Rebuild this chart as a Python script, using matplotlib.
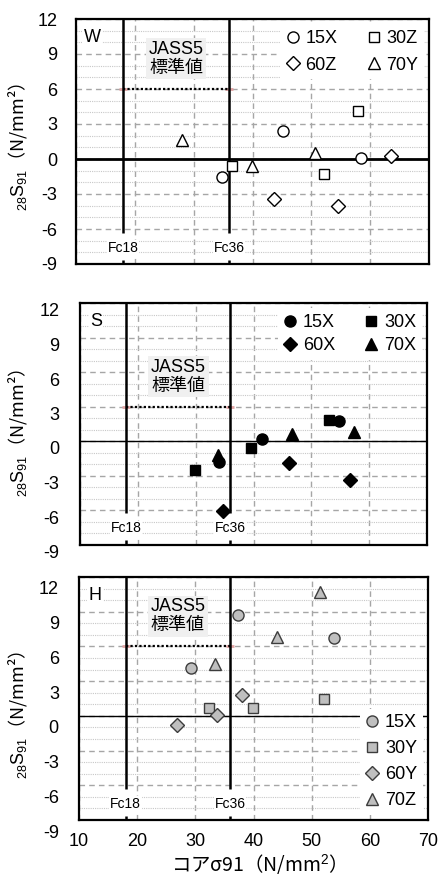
import matplotlib
matplotlib.use("Agg")
import matplotlib.pyplot as plt
from matplotlib.ticker import MultipleLocator
from matplotlib.transforms import ScaledTranslation


# ============================================================
# 1) DATA (read off the reference chart)
# ============================================================

X_TICKS = [10, 20, 30, 40, 50, 60, 70]
Y_TICKS = [-9, -6, -3, 0, 3, 6, 9, 12]

FC_VALUES = [18, 36]          # Fc18 / Fc36 reference lines
JASS_X = [18, 36]             # span of the JASS5 standard-value line

# --- W panel: open markers
W_LABELS = ["15X", "30Z", "60Z", "70Y"]
W_X = [[45.1, 34.9, 58.5],
       [36.6, 52.2, 57.9],
       [43.7, 54.6, 63.6],
       [28.1, 39.9, 50.6]]
W_Y = [[2.4, -1.5, 0.1],
       [-0.6, -1.3, 4.1],
       [-3.4, -4.0, 0.3],
       [1.6, -0.6, 0.5]]
W_JASS = 6

# --- S panel: filled black markers
S_LABELS = ["15X", "30X", "60X", "70X"]
S_X = [[34.1, 41.5, 54.8],
       [29.9, 39.6, 53.1],
       [34.7, 46.2, 56.6],
       [33.9, 46.6, 57.4]]
S_Y = [[-1.8, 0.2, 1.7],
       [-2.5, -0.6, 1.8],
       [-6.1, -1.9, -3.4],
       [-1.2, 0.6, 0.8]]
S_JASS = 3

# --- H panel: grey markers
H_LABELS = ["15X", "30Y", "60Y", "70Z"]
H_X = [[29.2, 37.3, 53.8],
       [32.4, 39.9, 52.1],
       [26.8, 33.8, 38.0],
       [33.3, 44.1, 51.4]]
H_Y = [[4.1, 8.7, 6.7],
       [0.7, 0.7, 1.5],
       [-0.8, 0.1, 1.8],
       [4.5, 6.8, 10.7]]
H_JASS = 6


# ============================================================
# 2) STYLING
# ============================================================

plt.rcParams["font.family"] = ["Liberation Sans", "DejaVu Sans", "Noto Sans CJK JP"]
plt.rcParams["axes.unicode_minus"] = False
plt.rcParams["mathtext.fontset"] = "custom"
plt.rcParams["mathtext.rm"] = "Liberation Sans"
plt.rcParams["mathtext.it"] = "Liberation Sans:italic"
plt.rcParams["mathtext.bf"] = "Liberation Sans:bold"

FIG_W, FIG_H, DPI = 438, 881, 100
FONT = 13
FC_FONT = 10
MARKERS = ["o", "s", "D", "^"]
MARKER_SIZES = [8, 7.5, 6.8, 8.5]

GRID_MAJOR = "#a6a6a6"
GRID_MINOR = "#c8c8c8"
JASS_BOX = "#f0f0f0"
JASS_END = "#e2a4a4"

FC_GAP = (-8.65, -6.3)        # gap in the Fc lines behind the labels
FC_LABEL_Y = -7.6
JASS_TEXT_X = 27
JASS_TEXT_DY = 2.6

YLABEL = r"${}_{28}\mathrm{S}_{91}$（N/mm²）"
YLABEL_FONT = ["Noto Sans CJK JP"]
XLABEL = r"コアσ91（N/mm$^{2}$）"
XLABEL_FONT = ["Noto Sans CJK JP"]

# pixel rects (left, top, right, bottom) of each plot box
PANELS = [
    dict(name="W", labels=W_LABELS, xs=W_X, ys=W_Y, jass=W_JASS,
         face="white", edge="black", zero_lw=2.0,
         box=(76, 19, 429, 264), yshift=0, ypad=13.5, ylab_y=0.476,
         legend=dict(ncol=2, loc="upper right", labelspacing=0.55)),
    dict(name="S", labels=S_LABELS, xs=S_X, ys=S_Y, jass=S_JASS,
         face="black", edge="black", zero_lw=1.0,
         box=(80, 303, 427, 544.5), yshift=7, ypad=15, ylab_y=0.463,
         legend=dict(ncol=2, loc="upper right", labelspacing=0.35)),
    dict(name="H", labels=H_LABELS, xs=H_X, ys=H_Y, jass=H_JASS,
         face="#bfbfbf", edge="#3c3c3c", zero_lw=1.0,
         box=(79, 577, 428, 820), yshift=11, ypad=14.5, ylab_y=0.432,
         legend=dict(ncol=1, loc="lower right", labelspacing=0.5)),
]


# ============================================================
# 3) FIGURE
# ============================================================

fig = plt.figure(figsize=(FIG_W / DPI, FIG_H / DPI), dpi=DPI)

for i, p in enumerate(PANELS):
    l, t, r, b = p["box"]
    ax = fig.add_axes([l / FIG_W, 1 - b / FIG_H, (r - l) / FIG_W, (b - t) / FIG_H])
    ax.set_xlim(X_TICKS[0], X_TICKS[-1])
    ax.set_ylim(Y_TICKS[0], Y_TICKS[-1])

    # grid: dashed majors, dotted 1-unit minors (horizontal only)
    ax.set_xticks(X_TICKS)
    ax.set_yticks(Y_TICKS)
    ax.yaxis.set_minor_locator(MultipleLocator(1))
    ax.grid(True, which="major", color=GRID_MAJOR, linestyle=(0, (4, 3)), linewidth=1.0)
    ax.grid(True, which="minor", axis="y", color=GRID_MINOR, linestyle=(0, (1, 1)), linewidth=0.8)
    ax.set_axisbelow(True)
    ax.tick_params(which="both", length=0, labelsize=FONT)
    ax.tick_params(axis="y", pad=p["ypad"])
    ax.tick_params(axis="x", pad=9)
    for sp in ax.spines.values():
        sp.set_linewidth(1.6)

    # tick labels in the original sit a few pixels below the grid
    if p["yshift"]:
        off = ScaledTranslation(0, -p["yshift"] / DPI, fig.dpi_scale_trans)
        for lbl in ax.get_yticklabels():
            lbl.set_transform(lbl.get_transform() + off)

    if i < len(PANELS) - 1:
        ax.set_xticklabels([])
    else:
        ax.set_xlabel(XLABEL, fontsize=FONT + 1, family=XLABEL_FONT, labelpad=2)

    ax.set_ylabel(YLABEL, fontsize=FONT, family=YLABEL_FONT)
    ax.yaxis.set_label_coords((29 - l) / (r - l), p["ylab_y"])

    # zero line
    ax.axhline(0, color="black", linewidth=p["zero_lw"], zorder=2)

    # Fc reference lines with gap behind their labels
    for fc in FC_VALUES:
        ax.vlines(fc, FC_GAP[1], Y_TICKS[-1], color="black", linewidth=1.8, zorder=3)
        ax.vlines(fc, Y_TICKS[0], FC_GAP[0], color="black", linewidth=1.8, zorder=3)
        ax.text(fc, FC_LABEL_Y, f"Fc{fc}", ha="center", va="center", fontsize=FC_FONT,
                zorder=4, bbox=dict(facecolor="white", edgecolor="none", pad=0.5))

    # JASS5 standard value
    ax.plot(JASS_X, [p["jass"]] * 2, linestyle=(0, (1, 1)), color="black",
            linewidth=1.6, zorder=3)
    ax.plot(JASS_X, [p["jass"]] * 2, linestyle="none", marker="_", markersize=6,
            markeredgewidth=2, color=JASS_END, zorder=2.5)
    ax.text(JASS_TEXT_X, p["jass"] + JASS_TEXT_DY, "JASS5\n標準値", ha="center", va="center",
            fontsize=FONT, linespacing=1.15, zorder=4,
            bbox=dict(facecolor=JASS_BOX, edgecolor="none", pad=2))

    # panel letter
    ax.text(0.046, 0.925, p["name"], transform=ax.transAxes, ha="center", va="center",
            fontsize=FONT, zorder=4, bbox=dict(facecolor="white", edgecolor="none", pad=1))

    # data series
    handles = []
    for lab, xs, ys, mk, ms in zip(p["labels"], p["xs"], p["ys"], MARKERS, MARKER_SIZES):
        h, = ax.plot(xs, ys, linestyle="none", marker=mk, markersize=ms,
                     markerfacecolor=p["face"], markeredgecolor=p["edge"],
                     markeredgewidth=1.0, label=lab, zorder=5)
        handles.append(h)

    lg = p["legend"]
    if lg["ncol"] == 2:
        # matplotlib fills columns first; reorder so rows read 15X 30Z / 60Z 70Y
        handles = [handles[0], handles[2], handles[1], handles[3]]
    leg = ax.legend(handles=handles, ncol=lg["ncol"], loc=lg["loc"], fontsize=FONT,
                    labelspacing=lg["labelspacing"], handlelength=0.8, handletextpad=0.3,
                    columnspacing=1.6, borderpad=0.3, borderaxespad=0.3,
                    frameon=True, fancybox=False, framealpha=1.0)
    leg.get_frame().set_edgecolor("none")
    leg.get_frame().set_facecolor("white")
    leg.set_zorder(6)

fig.savefig("out.png", dpi=DPI)
